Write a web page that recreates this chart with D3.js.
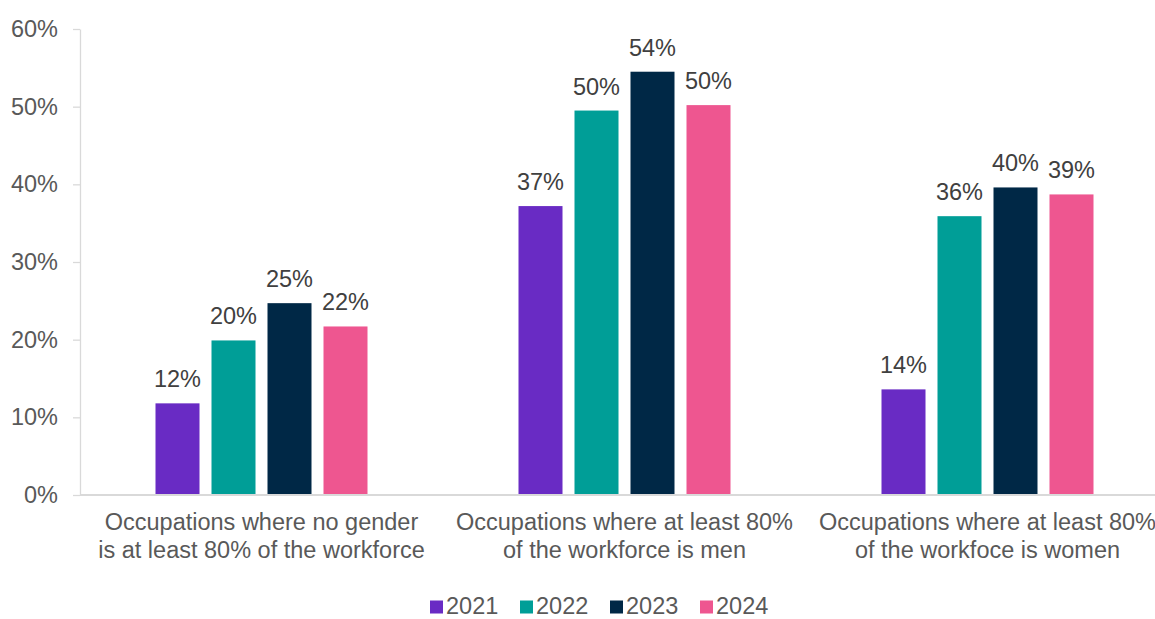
<!DOCTYPE html>
<html>
<head>
<meta charset="utf-8">
<script src="https://cdn.jsdelivr.net/npm/d3@7"></script>
<style>
  html, body { margin: 0; padding: 0; background: #fff; }
  svg { display: block; font-family: "Liberation Sans", Arial, sans-serif; }
</style>
</head>
<body>
<svg id="chart" width="1155" height="619"></svg>
<script>
// 各类职业占比（按年份）
var categories = [
  ['Occupations where no gender', 'is at least 80% of the workforce'],
  ['Occupations where at least 80%', 'of the workforce is men'],
  ['Occupations where at least 80%', 'of the workfoce is women']
];
var years = ['2021', '2022', '2023', '2024'];
var v2021 = [11.8, 37.2, 13.6];
var v2022 = [19.9, 49.5, 35.9];
var v2023 = [24.7, 54.5, 39.6];
var v2024 = [21.7, 50.2, 38.7];
var labels2021 = ['12%', '37%', '14%'];
var labels2022 = ['20%', '50%', '36%'];
var labels2023 = ['25%', '54%', '40%'];
var labels2024 = ['22%', '50%', '39%'];
var yTicks = [0, 10, 20, 30, 40, 50, 60];
var colors = ['#692BC4', '#009E97', '#002846', '#EE5690'];

(function () {
  'use strict';

  var FONT = '23.5px';
  var series = [v2021, v2022, v2023, v2024];
  var seriesLabels = [labels2021, labels2022, labels2023, labels2024];

  var svg = d3.select('#chart');
  var plotL = 80, plotR = 1169, plotT = 29, plotB = 495;

  var x0 = d3.scaleBand().domain(d3.range(categories.length)).range([plotL, plotR]);
  var x1 = d3.scaleBand().domain(d3.range(years.length)).range([0, 212]).paddingInner(12 / 56);
  var y = d3.scaleLinear().domain([0, 60]).range([plotB, plotT]);

  // y 轴
  var yAxis = svg.append('g').attr('transform', 'translate(' + plotL + ',0)')
    .call(d3.axisLeft(y).tickValues(yTicks).tickSize(7).tickSizeOuter(0).tickPadding(15)
      .tickFormat(function (d) { return d + '%'; }));
  yAxis.select('.domain').attr('stroke', '#D9D9D9').attr('stroke-width', 1.3);
  yAxis.selectAll('.tick line').attr('stroke', '#D9D9D9').attr('stroke-width', 1.3);
  yAxis.selectAll('.tick text').attr('fill', '#595959').style('font-size', FONT)
    .style('font-family', '"Liberation Sans", Arial, sans-serif');

  // 柱 + 数值标签
  var groups = svg.append('g').selectAll('g').data(categories).join('g')
    .attr('transform', function (d, i) { return 'translate(' + (x0(i) + x0.bandwidth() / 2 - 106) + ',0)'; });

  series.forEach(function (vals, s) {
    groups.append('rect')
      .attr('x', x1(s))
      .attr('width', x1.bandwidth())
      .attr('y', function (d, i) { return y(vals[i]); })
      .attr('height', function (d, i) { return plotB - y(vals[i]); })
      .attr('fill', colors[s]);
    groups.append('text')
      .attr('x', x1(s) + x1.bandwidth() / 2)
      .attr('y', function (d, i) { return y(vals[i]) - 16; })
      .attr('text-anchor', 'middle')
      .attr('fill', '#404040')
      .style('font-size', FONT)
      .text(function (d, i) { return seriesLabels[s][i]; });
  });

  // x 轴线
  svg.append('line').attr('x1', plotL).attr('x2', 1155).attr('y1', plotB).attr('y2', plotB)
    .attr('stroke', '#D9D9D9').attr('stroke-width', 2);

  // 分类标签（两行）
  var catText = svg.append('g').selectAll('text').data(categories).join('text')
    .attr('text-anchor', 'middle')
    .attr('fill', '#595959')
    .style('font-size', FONT)
    .attr('transform', function (d, i) { return 'translate(' + (x0(i) + x0.bandwidth() / 2) + ',0)'; });
  catText.selectAll('tspan').data(function (d) { return d; }).join('tspan')
    .attr('x', 0)
    .attr('y', function (d, j) { return 530 + j * 28; })
    .text(function (d) { return d; });

  // 图例（略上移，避免文字下沿被裁）
  var legend = svg.append('g').selectAll('g').data(years).join('g')
    .attr('transform', function (d, i) { return 'translate(' + (430 + i * 90) + ',0)'; });
  legend.append('rect').attr('x', 0).attr('y', 600.5).attr('width', 13).attr('height', 13)
    .attr('fill', function (d, i) { return colors[i]; });
  legend.append('text').attr('x', 16).attr('y', 613.5).attr('fill', '#595959')
    .style('font-size', FONT).text(function (d) { return d; });
})();
</script>
</body>
</html>
